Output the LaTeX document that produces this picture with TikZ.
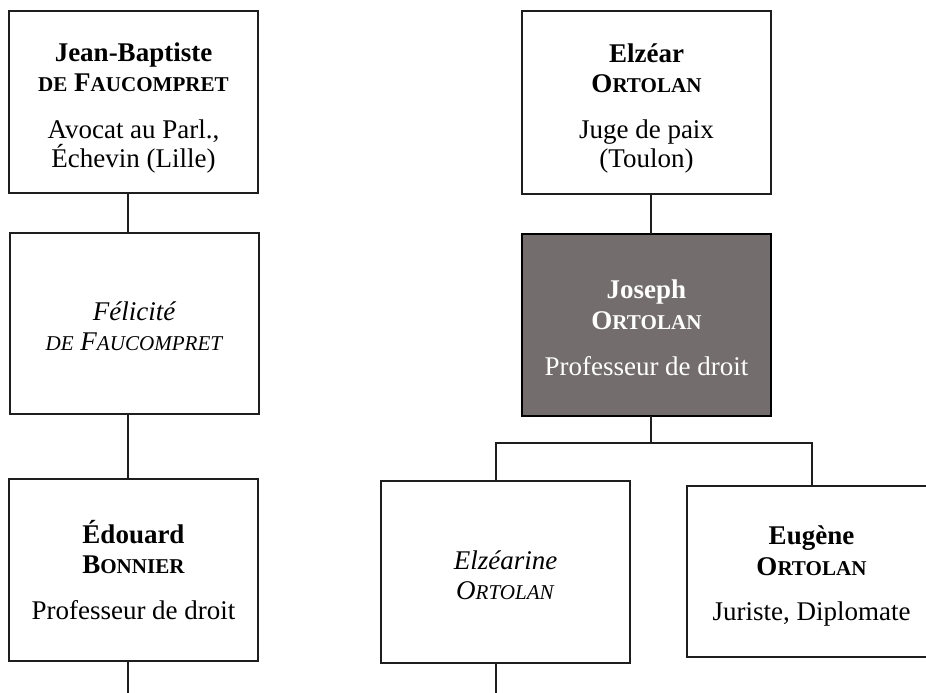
\documentclass[tikz,border=0pt]{standalone}
\usepackage{fontspec}
\setmainfont{Liberation Serif}
\newcommand\fsc[1]{{\fontsize{15.8}{15.8}\selectfont #1}}
\definecolor{jgray}{RGB}{115,110,109}
\definecolor{edge}{RGB}{30,30,30}
\tikzset{
  person/.style={draw=edge, line width=1pt, rectangle, inner sep=0pt, outer sep=0pt,
    minimum width=186.75pt},
  ptext/.style={inner sep=0pt, align=center,
    font=\fontsize{20.25}{21.75}\selectfont},
  link/.style={draw=edge, line width=1pt}
}
\begin{document}
\begin{tikzpicture}[x=0.75pt,y=-0.75pt]
\useasboundingbox (0,0) rectangle (926,693);
\clip (0,0) rectangle (926,693);
% left column
\node[person, minimum height=136.5pt] (b1) at (133.5,102) {};
\node[ptext, yshift=-4.5pt] (b1t) at (b1.center)
  {\textbf{Jean-Baptiste}\\[1pt] \textbf{\fsc{DE} F\fsc{AUCOMPRET}}\\[13pt] Avocat au Parl.,\\ Échevin (Lille)};
\node[person, minimum height=135.75pt] (b2) at (134.5,323.5) {};
\node[ptext, yshift=-2.25pt] (b2t) at (b2.center)
  {\textit{Félicité}\\[0.5pt] \textit{\fsc{DE} F\fsc{AUCOMPRET}}};
\node[person, minimum height=136.5pt] (b3) at (133.5,570) {};
\node[ptext] (b3t) at (b3.center)
  {\textbf{Édouard}\\[1pt] \textbf{B\fsc{ONNIER}}\\[13pt] Professeur de droit};
% right column
\node[person, minimum height=137.25pt] (e1) at (646.5,102.5) {};
\node[ptext, yshift=-4.5pt] (e1t) at (e1.center)
  {\textbf{Elzéar}\\[1pt] \textbf{O\fsc{RTOLAN}}\\[13pt] Juge de paix\\ (Toulon)};
\node[person, minimum height=136.5pt, fill=jgray, draw=black] (j) at (646.5,325) {};
\node[ptext, text=white, yshift=-2.25pt] (jt) at (j.center)
  {\textbf{Joseph}\\[1.5pt] \textbf{O\fsc{RTOLAN}}\\[13pt] Professeur de droit};
\node[person, minimum height=136.5pt] (ez) at (505.5,572) {};
\node[ptext, yshift=-2.25pt] (ezt) at (ez.center)
  {\textit{Elzéarine}\\[0.5pt] \textit{O\fsc{RTOLAN}}};
\node[person, minimum height=128.25pt] (eu) at (811.5,571.5) {};
\node[ptext, yshift=-3pt] (eut) at (eu.center)
  {\textbf{Eugène}\\[1.5pt] \textbf{O\fsc{RTOLAN}}\\[12pt] Juriste, Diplomate};
% helper coordinates
\coordinate (lc) at (128,0);
\coordinate (rc) at (651,0);
\coordinate (ezc) at (496,0);
\coordinate (euc) at (812,0);
\coordinate (bar) at (0,443);
\coordinate (bottom) at (0,693);
% connectors
\draw[link] (b1.south -| lc) -- (b2.north -| lc);
\draw[link] (b2.south -| lc) -- (b3.north -| lc);
\draw[link] (b3.south -| lc) -- (lc |- bottom);
\draw[link] (e1.south -| rc) -- (j.north -| rc);
\draw[link] (j.south -| rc) -- (rc |- bar);
\draw[link] (ez.north -| ezc) -- (ezc |- bar) -- (euc |- bar) -- (eu.north -| euc);
\draw[link] (ez.south -| ezc) -- (ezc |- bottom);
\end{tikzpicture}
\end{document}
